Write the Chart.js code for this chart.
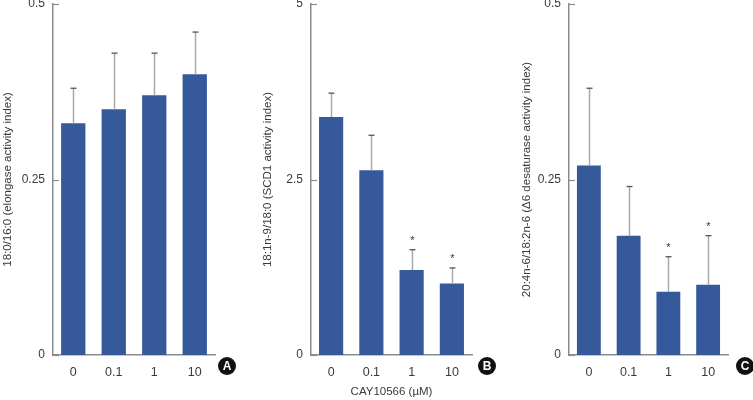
<!DOCTYPE html>
<html>
<head>
<meta charset="utf-8">
<script src="https://cdn.jsdelivr.net/npm/chart.js@4"></script>
<style>
  html, body { margin: 0; padding: 0; background: #fff; }
  #wrap { position: relative; width: 753px; height: 400px; overflow: hidden; }
  canvas { position: absolute; top: 0; }
</style>
</head>
<body>
<div id="wrap">
  <canvas id="cA" width="250" height="400" style="left:0px"></canvas>
  <canvas id="cB" width="250" height="400" style="left:260px"></canvas>
  <canvas id="cC" width="234" height="400" style="left:519px"></canvas>
</div>
<script>
const categories = ['0', '0.1', '1', '10'];

const valuesA = [0.33, 0.35, 0.37, 0.40];
const sdA     = [0.05, 0.08, 0.06, 0.06];
const sigA    = [false, false, false, false];
const ticksA  = [0, 0.25, 0.5];
const tickLabelsA = ['0', '0.25', '0.5'];

const valuesB = [3.39, 2.63, 1.21, 1.02];
const sdB     = [0.34, 0.50, 0.29, 0.22];
const sigB    = [false, false, true, true];
const ticksB  = [0, 2.5, 5];
const tickLabelsB = ['0', '2.5', '5'];

const valuesC = [0.27, 0.17, 0.09, 0.10];
const sdC     = [0.11, 0.07, 0.05, 0.07];
const sigC    = [false, false, true, true];
const ticksC  = [0, 0.25, 0.5];
const tickLabelsC = ['0', '0.25', '0.5'];

const FONT = "'Liberation Sans', Arial, sans-serif";
const BAR_COLOR = '#35599a';
const AXIS_COLOR = '#8c8c8c';
const TEXT_COLOR = '#3a3a3a';

function makeChart(id, cfg) {
  const overlay = {
    id: 'overlay_' + id,
    afterDatasetsDraw(chart) {
      const ctx = chart.ctx;
      const y = chart.scales.y;
      const meta = chart.getDatasetMeta(0);
      const area = chart.chartArea;
      ctx.save();
      // inward y ticks
      ctx.strokeStyle = AXIS_COLOR;
      ctx.lineWidth = 1.2;
      y.ticks.forEach(t => {
        const py = Math.round(y.getPixelForValue(t.value)) + 0.5;
        ctx.beginPath();
        ctx.moveTo(area.left, py);
        ctx.lineTo(area.left + 6, py);
        ctx.stroke();
      });
      // error bars
      meta.data.forEach((bar, i) => {
        const x = Math.round(bar.x) + 0.5;
        const yTop = y.getPixelForValue(cfg.values[i] + cfg.sd[i]);
        const yBar = y.getPixelForValue(cfg.values[i]);
        ctx.strokeStyle = '#a9a9a9';
        ctx.lineWidth = 1.5;
        ctx.beginPath();
        ctx.moveTo(x, yBar);
        ctx.lineTo(x, yTop);
        ctx.stroke();
        ctx.strokeStyle = '#555';
        ctx.lineWidth = 1.3;
        ctx.beginPath();
        ctx.moveTo(x - 3, yTop);
        ctx.lineTo(x + 3, yTop);
        ctx.stroke();
        if (cfg.sig[i]) {
          ctx.fillStyle = '#333';
          ctx.font = "11px " + FONT;
          ctx.textAlign = 'center';
          ctx.textBaseline = 'middle';
          ctx.fillText('*', x, yTop - 9);
        }
      });
      // panel letter
      const cx = area.right + cfg.letterDx;
      const cy = area.bottom + 11;
      ctx.fillStyle = '#111';
      ctx.beginPath();
      ctx.arc(cx, cy, 9, 0, Math.PI * 2);
      ctx.fill();
      ctx.fillStyle = '#fff';
      ctx.font = "bold 12px 'Liberation Sans', Arial, sans-serif";
      ctx.textAlign = 'center';
      ctx.textBaseline = 'middle';
      ctx.fillText(cfg.letter, cx, cy + 0.5);
      ctx.restore();
    }
  };

  return new Chart(document.getElementById(id), {
    type: 'bar',
    data: {
      labels: categories,
      datasets: [{
        data: cfg.values,
        backgroundColor: BAR_COLOR,
        borderWidth: 0,
        barPercentage: 0.6,
        categoryPercentage: 1.0
      }]
    },
    options: {
      responsive: false,
      animation: false,
      devicePixelRatio: 1,
      layout: { padding: { left: 0, right: cfg.padRight, top: 4, bottom: 0 } },
      plugins: { legend: { display: false }, tooltip: { enabled: false } },
      scales: {
        x: {
          grid: { display: false, drawTicks: false },
          border: { display: true, color: AXIS_COLOR, width: 1.5 },
          ticks: { color: TEXT_COLOR, font: { family: FONT, size: 12.5 }, padding: 10 },
          title: {
            display: !!cfg.xTitle,
            text: cfg.xTitle || '',
            color: TEXT_COLOR,
            font: { family: FONT, size: 11.5 },
            padding: { top: 0, bottom: 1 }
          },
          afterFit(scale) { scale.height = 45; scale.paddingLeft = 0; scale.paddingRight = 0; }
        },
        y: {
          min: 0,
          max: cfg.ticks[cfg.ticks.length - 1],
          afterBuildTicks(scale) { scale.ticks = cfg.ticks.map(v => ({ value: v })); },
          grid: { display: false, drawTicks: false },
          border: { display: true, color: AXIS_COLOR, width: 1.5 },
          ticks: {
            color: TEXT_COLOR,
            font: { family: FONT, size: 12 },
            padding: 8,
            callback(v) { const k = cfg.ticks.indexOf(v); return k >= 0 ? cfg.tickLabels[k] : ''; }
          },
          title: {
            display: true,
            text: cfg.yTitle,
            color: TEXT_COLOR,
            font: { family: FONT, size: 11.5 },
            padding: 1
          },
          afterFit(scale) { scale.width = cfg.yWidth; scale.paddingTop = 0; scale.paddingBottom = 0; }
        }
      }
    },
    plugins: [overlay]
  });
}

makeChart('cA', {
  values: valuesA, sd: sdA, sig: sigA, ticks: ticksA, tickLabels: tickLabelsA,
  yTitle: '18:0/16:0 (elongase activity index)', yWidth: 53, padRight: 35,
  letter: 'A', letterDx: 12
});
makeChart('cB', {
  values: valuesB, sd: sdB, sig: sigB, ticks: ticksB, tickLabels: tickLabelsB,
  yTitle: '18:1n-9/18:0 (SCD1 activity index)', yWidth: 51, padRight: 38,
  xTitle: 'CAY10566 (µM)', letter: 'B', letterDx: 15
});
makeChart('cC', {
  values: valuesC, sd: sdC, sig: sigC, ticks: ticksC, tickLabels: tickLabelsC,
  yTitle: '20:4n-6/18:2n-6 (Δ6 desaturase activity index)', yWidth: 50, padRight: 25,
  letter: 'C', letterDx: 17
});
</script>
</body>
</html>
